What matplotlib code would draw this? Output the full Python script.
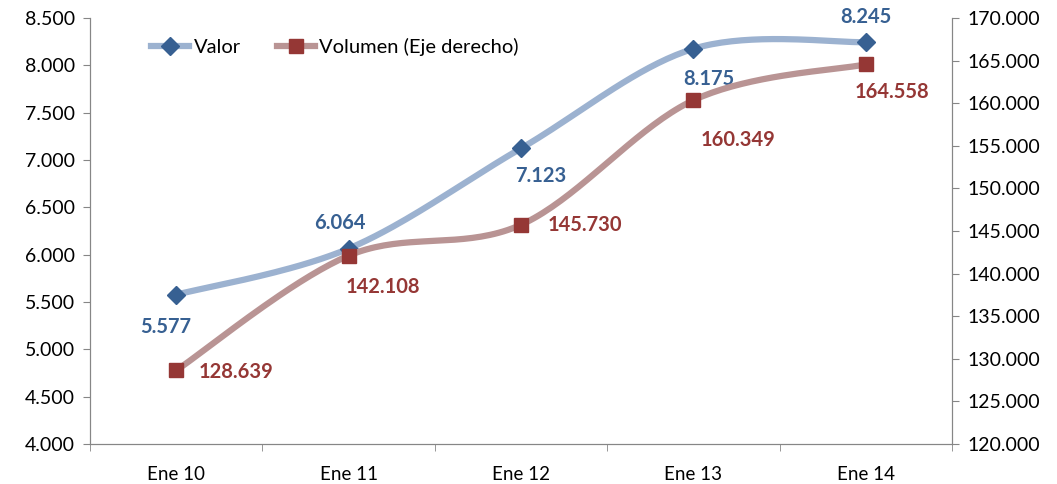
import numpy as np
import matplotlib
matplotlib.use("Agg")
from matplotlib import pyplot as plt
from matplotlib.lines import Line2D

# Datos
meses = ['Ene 10', 'Ene 11', 'Ene 12', 'Ene 13', 'Ene 14']
valor = [5577, 6064, 7123, 8175, 8245]
volumen = [128639, 142108, 145730, 160349, 164558]
etiquetas_valor = ['5.577', '6.064', '7.123', '8.175', '8.245']
etiquetas_volumen = ['128.639', '142.108', '145.730', '160.349', '164.558']
ticks_izq = [4000, 4500, 5000, 5500, 6000, 6500, 7000, 7500, 8000, 8500]
ticks_der = [120000, 125000, 130000, 135000, 140000, 145000, 150000, 155000, 160000, 165000, 170000]

plt.rcParams['font.family'] = ['Lato', 'DejaVu Sans']

azul_linea = '#9cb2d0'
azul = '#376092'
rojo_linea = '#b99494'
rojo = '#953735'


def suavizar(x, y, n=40):
    # curva tipo Excel (Catmull-Rom con Bezier)
    x = np.asarray(x, float)
    y = np.asarray(y, float)
    px = np.concatenate([[x[0]], x, [x[-1]]])
    py = np.concatenate([[y[0]], y, [y[-1]]])
    xs, ys = [], []
    t = np.linspace(0, 1, n)
    for i in range(1, len(x)):
        p0 = np.array([px[i], py[i]])
        p1 = np.array([px[i + 1], py[i + 1]])
        c1 = p0 + (p1 - np.array([px[i - 1], py[i - 1]])) / 6
        c2 = p1 - (np.array([px[i + 2], py[i + 2]]) - p0) / 6
        b = ((1 - t) ** 3)[:, None] * p0 + (3 * (1 - t) ** 2 * t)[:, None] * c1 \
            + (3 * (1 - t) * t ** 2)[:, None] * c2 + (t ** 3)[:, None] * p1
        xs.extend(b[:, 0])
        ys.extend(b[:, 1])
    return np.array(xs), np.array(ys)


fig = plt.figure(figsize=(10.57, 4.84), dpi=100)
ax = fig.add_axes([90 / 1057, 1 - 444 / 484, 862 / 1057, 426 / 484])
ax2 = ax.twinx()

pos = np.arange(len(meses))
sx, sy = suavizar(pos, valor)
ax.plot(sx, sy, color=azul_linea, lw=4.5, solid_capstyle='round', zorder=2)
ax.plot(pos, valor, ls='none', marker='D', ms=9, color=azul, zorder=3)

rx, ry = suavizar(pos, volumen)
ax2.plot(rx, ry, color=rojo_linea, lw=4.5, solid_capstyle='round', zorder=2)
ax2.plot(pos, volumen, ls='none', marker='s', ms=10, color=rojo, zorder=3)

ax.set_xlim(-0.5, 4.5)
ax.set_ylim(4000, 8500)
ax2.set_ylim(120000, 170000)

fmt = lambda v: f'{v:,.0f}'.replace(',', '.')
ax.set_yticks(ticks_izq)
ax.set_yticklabels([fmt(v) for v in ticks_izq])
ax2.set_yticks(ticks_der)
ax2.set_yticklabels([fmt(v) for v in ticks_der])
ax.set_xticks(pos)
ax.set_xticklabels(meses)
ax.set_xticks(np.arange(-0.5, 5, 1), minor=True)
ax.tick_params(axis='x', which='major', length=0, pad=16, labelsize=13.5)
ax.tick_params(axis='x', which='minor', length=5, color='#868686', direction='out')
ax.tick_params(axis='y', length=5, color='#868686', labelsize=14, pad=6)
ax2.tick_params(axis='y', length=5, color='#868686', labelsize=14, pad=6)

for a in (ax, ax2):
    a.spines['top'].set_visible(False)
    for s in ('left', 'right', 'bottom'):
        a.spines[s].set_color('#868686')

# etiquetas de datos
off_valor = [(-11, -32), (-9, 26), (20, -28), (15, -30), (0, 25)]
off_volumen = [(60, -2), (34, -31), (64, 0), (45, -40), (26, -28)]
for i in range(len(meses)):
    ax.annotate(etiquetas_valor[i], (pos[i], valor[i]), xytext=off_valor[i],
                textcoords='offset pixels', ha='center', va='center',
                color=azul, fontsize=14.5, fontweight='bold')
    ax2.annotate(etiquetas_volumen[i], (pos[i], volumen[i]), xytext=off_volumen[i],
                 textcoords='offset pixels', ha='center', va='center',
                 color=rojo, fontsize=14.5, fontweight='bold')

h1 = Line2D([], [], color=azul_linea, lw=4.5, marker='D', ms=9,
            markerfacecolor=azul, markeredgecolor=azul)
h2 = Line2D([], [], color=rojo_linea, lw=4.5, marker='s', ms=10,
            markerfacecolor=rojo, markeredgecolor=rojo)
ax.legend([h1, h2], ['Valor', 'Volumen (Eje derecho)'], ncol=2, frameon=False,
          loc='upper left', bbox_to_anchor=(0.05, 0.995), fontsize=14.5,
          handlelength=1.9, handletextpad=0.2, columnspacing=1.8)

plt.savefig('out.png', dpi=100)
